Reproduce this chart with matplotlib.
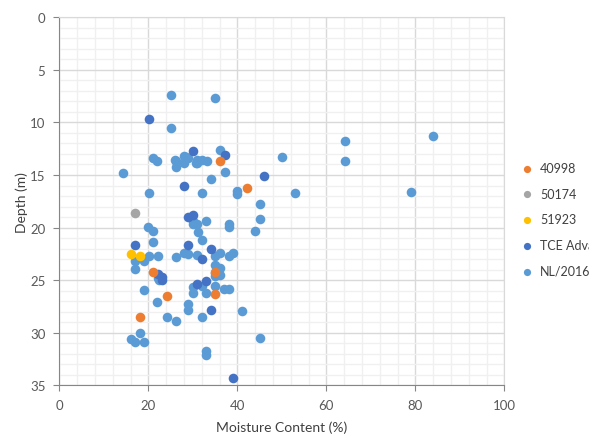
import matplotlib
matplotlib.use('Agg')
import matplotlib.pyplot as plt
from matplotlib.ticker import MultipleLocator

plt.rcParams['font.family'] = ['Lato', 'DejaVu Sans']

# Series data: (moisture content %, depth m)
s40998_x = [36.1, 42.1, 21.1, 35.0, 24.1, 35.0, 18.1]
s40998_y = [13.7, 16.2, 24.2, 24.2, 26.5, 26.3, 28.5]

s50174_x = [17.1]
s50174_y = [18.6]

s51923_x = [16.0, 18.1]
s51923_y = [22.5, 22.7]

tce_x = [20.1, 30.0, 37.2, 46.0, 28.1, 30.1, 29.0, 17.1, 29.0, 34.0,
         32.0, 22.1, 23.1, 23.1, 33.0, 31.0, 34.0, 39.1]
tce_y = [9.7, 12.7, 13.1, 15.1, 16.0, 18.8, 19.0, 21.7, 21.7, 22.0,
         23.0, 24.4, 24.7, 25.0, 25.1, 25.4, 27.8, 34.3]

nl_x = [25.1, 35.0, 25.1, 64.1, 84.0, 64.1, 50.0, 36.1, 21.0, 22.0,
        26.2, 26.2, 28.1, 29.0, 28.1, 31.0, 31.0, 32.0, 33.1, 14.2,
        37.2, 34.0, 20.1, 32.0, 40.0, 40.0, 53.0, 79.0, 45.0, 45.0,
        30.1, 30.1, 31.0, 33.0, 31.1, 32.0, 38.1, 38.1, 44.0, 19.9,
        21.1, 21.1, 17.0, 19.0, 20.1, 22.1, 17.1, 22.1, 22.5, 19.0,
        22.0, 24.1, 26.2, 18.1, 16.0, 17.0, 19.0, 26.2, 28.0, 29.0,
        31.0, 35.0, 36.1, 38.1, 39.1, 35.0, 36.1, 35.0, 36.1, 30.1,
        30.1, 32.0, 33.0, 35.0, 37.0, 38.1, 29.0, 29.0, 32.0, 41.1,
        33.0, 33.0, 45.0, 30.7, 28.5, 26.0, 35.0]
nl_y = [7.4, 7.7, 10.5, 11.8, 11.3, 13.7, 13.3, 12.6, 13.4, 13.7,
        13.7, 14.2, 13.2, 13.4, 13.9, 13.6, 13.9, 13.6, 13.7, 14.8,
        14.7, 15.4, 16.7, 16.7, 16.5, 16.8, 16.7, 16.6, 17.8, 19.2,
        19.4, 19.7, 19.7, 19.4, 20.4, 21.2, 19.7, 19.9, 20.3, 19.9,
        20.3, 21.4, 23.2, 23.2, 22.7, 22.7, 23.9, 24.8, 25.0, 25.9,
        27.1, 28.5, 28.9, 30.0, 30.6, 30.9, 30.9, 22.8, 22.4, 22.5,
        22.6, 22.7, 22.4, 22.7, 22.4, 23.6, 23.8, 24.6, 24.5, 25.7,
        26.2, 25.6, 26.2, 25.6, 25.8, 25.8, 27.3, 27.8, 28.5, 27.9,
        31.7, 32.1, 30.5, 13.9, 13.3, 13.6, 24.3]

series = [
    ('40998', s40998_x, s40998_y, '#ED7D31'),
    ('50174', s50174_x, s50174_y, '#A5A5A5'),
    ('51923', s51923_x, s51923_y, '#FFC000'),
    ('TCE Advanced', tce_x, tce_y, '#4472C4'),
    ('NL/2016', nl_x, nl_y, '#5B9BD5'),
]
draw_order = [4, 3, 0, 1, 2]

fig = plt.figure(figsize=(5.89, 4.35), dpi=100)
ax = fig.add_axes([0.1007, 0.112, 0.7555, 0.846])

handles = {}
for i in draw_order:
    name, xs, ys, col = series[i]
    handles[i] = ax.scatter(xs, ys, s=48, color=col, label=name,
                            linewidths=0, zorder=3)

ax.set_xlim(0, 100)
ax.set_ylim(35, 0)
ax.xaxis.set_major_locator(MultipleLocator(20))
ax.xaxis.set_minor_locator(MultipleLocator(4))
ax.yaxis.set_major_locator(MultipleLocator(5))
ax.yaxis.set_minor_locator(MultipleLocator(1))
ax.grid(which='major', color='#D9D9D9', linewidth=1.0, zorder=0)
ax.grid(which='minor', color='#F0F0F0', linewidth=1.0, zorder=0)
ax.set_axisbelow(True)

for side in ['top', 'right']:
    ax.spines[side].set_color('#D9D9D9')
for side in ['left', 'bottom']:
    ax.spines[side].set_color('#868686')
ax.tick_params(which='major', length=4, color='#868686', labelsize=9.5,
               labelcolor='#595959', pad=6)
ax.tick_params(which='minor', length=0)

ax.set_xlabel('Moisture Content (%)', fontsize=10, color='#404040', va='center')
ax.set_ylabel('Depth (m)', fontsize=10, color='#404040', va='center')
ax.xaxis.set_label_coords(0.5, -0.113)
ax.yaxis.set_label_coords(-0.084, 0.5)

# legend sits outside the axes; the long labels run off the right edge as in the source
fig.legend([handles[i] for i in range(5)], [s[0] for s in series],
           loc='upper left', bbox_to_anchor=(0.865, 0.637), frameon=False,
           fontsize=9, labelcolor='#404040', handletextpad=0.05,
           labelspacing=1.1, markerscale=0.75, borderaxespad=0)

fig.savefig('out.png', dpi=100)
